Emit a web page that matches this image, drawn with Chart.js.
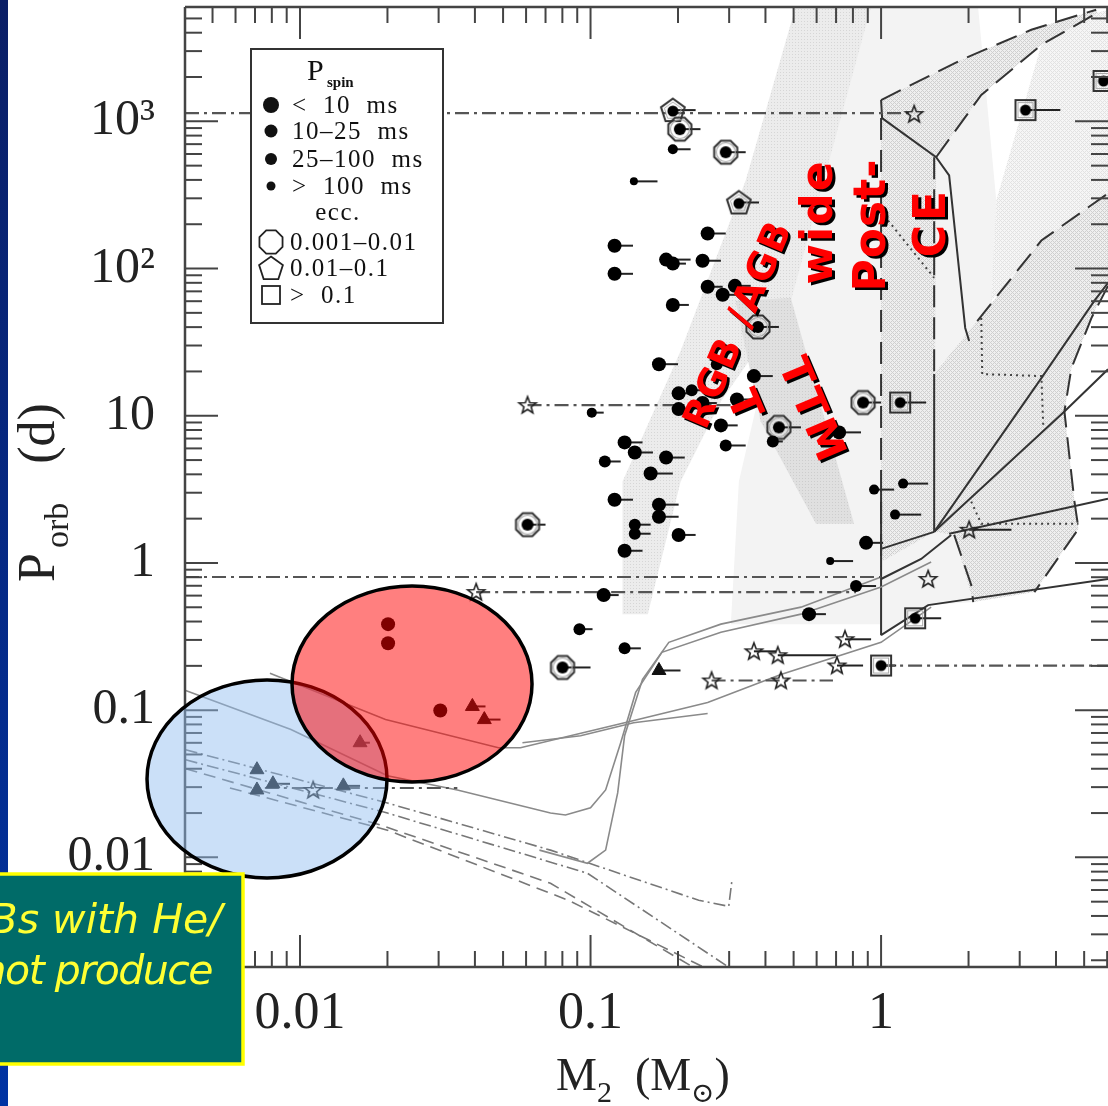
<!DOCTYPE html>
<html>
<head>
<meta charset="utf-8">
<title>Porb vs M2</title>
<script src="https://cdn.jsdelivr.net/npm/chart.js@4.4.1/dist/chart.umd.min.js"></script>
<style>
  html, body { margin: 0; padding: 0; background: #fff; }
  canvas { display: block; }
</style>
</head>
<body>
<canvas id="chart" width="1108" height="1106"></canvas>
<script>
/**
 * Binary pulsars: orbital period vs companion mass
 */

// axis ranges (M2 in Msun, Porb in days)
const xMin = 0.00402, xMax = 6.04;
const yMin = 0.0018, yMax = 5980;
const xTicks = [0.01, 0.1, 1];
const xTickText = ['0.01', '0.1', '1'];
const yTicks = [0.01, 0.1, 1, 10, 100, 1000];
const yTickText = ['0.01', '0.1', '1', '10', '10²', '10³'];

// pulsars: [M2, Porb, M2 at end of bar, spin class 1:<10 ms 2:10-25 3:25-100 4:>100]
const psrDots = [
  [0.192, 646, 0.221, 3], [0.141, 391, 0.170, 4], [0.253, 173, 0.292, 1], [0.121, 143, 0.140, 1],
  [0.182, 115, 0.221, 1], [0.192, 108, 0.213, 1], [0.243, 113, 0.281, 1], [0.121, 92.1, 0.140, 1],
  [0.253, 75.2, 0.285, 1], [0.285, 66.3, 0.321, 1], [0.314, 76.3, 0.356, 1], [0.192, 56.6, 0.218, 1],
  [0.172, 22.4, 0.200, 1], [0.272, 22.4, 0.309, 2], [0.365, 18.6, 0.424, 1], [0.201, 14.2, 0.225, 1],
  [0.223, 14.9, 0.243, 2], [0.243, 12.2, 0.272, 1], [0.201, 11.1, 0.227, 1], [0.319, 12.9, 0.374, 1],
  [0.101, 10.5, 0.111, 3], [0.281, 8.60, 0.321, 1], [0.717, 7.71, 0.853, 1], [0.131, 6.59, 0.151, 1],
  [0.142, 5.63, 0.164, 1], [0.182, 5.20, 0.211, 1], [0.112, 4.89, 0.127, 2], [0.161, 4.05, 0.192, 1],
  [0.292, 6.28, 0.342, 2], [0.424, 6.69, 0.459, 2], [0.121, 2.69, 0.140, 1], [0.172, 2.49, 0.201, 1],
  [0.172, 2.06, 0.201, 1], [0.142, 1.82, 0.161, 2], [0.142, 1.58, 0.161, 2], [0.201, 1.55, 0.230, 1],
  [0.131, 1.21, 0.151, 1], [0.946, 3.15, 1.109, 3], [1.191, 3.46, 1.452, 3], [1.117, 2.13, 1.374, 3],
  [0.888, 1.37, 1.016, 1], [0.668, 1.03, 0.801, 4], [0.820, 0.697, 0.961, 2], [0.565, 0.449, 0.646, 1],
  [0.111, 0.605, 0.125, 1], [0.0916, 0.355, 0.1016, 2], [0.131, 0.263, 0.149, 2],
  [0.0201, 0.384, 0.0201, 1], [0.0201, 0.285, 0.0201, 1], [0.0304, 0.0994, 0.0304, 1]
];
// eccentric systems: [M2, Porb, M2 at end of bar]
const eccLow = [ // 0.001-0.01
  [0.203, 885, 0.239], [0.292, 617, 0.342], [0.377, 40.1, 0.445], [0.445, 8.34, 0.530],
  [0.867, 12.3, 1.0], [0.0607, 1.82, 0.070], [0.0801, 0.195, 0.100]
];
const eccMid = [ // 0.01-0.1
  [0.192, 1192, 0.230], [0.324, 281, 0.380]
];
const eccHigh = [ // > 0.1
  [1.163, 12.3, 1.429], [1.31, 0.421, 1.61], [3.14, 1192, 4.14], [5.83, 1880, 7.0], [1.0, 0.201, 1.127]
];
const stars = [
  [1.30, 1120, 1.30], [0.0607, 11.8, 0.0607], [0.0404, 0.634, 0.0404], [1.452, 0.778, 1.452],
  [2.01, 1.68, 2.81], [0.365, 0.251, 0.435], [0.441, 0.236, 0.70], [0.751, 0.303, 0.924],
  [0.705, 0.201, 0.867], [0.261, 0.159, 0.261], [0.452, 0.159, 0.452], [0.0111, 0.0287, 0.0111]
];
const triangles = [
  [0.172, 0.186, 0.204], [0.0392, 0.106, 0.0435], [0.0431, 0.0863, 0.049], [0.0161, 0.0601, 0.0174],
  [0.00711, 0.0394, 0.00711], [0.00711, 0.0287, 0.00711], [0.00807, 0.0316, 0.00924], [0.0141, 0.0306, 0.0161]
];

// dash-dot period ranges: [M2 from, M2 to, Porb]
const rangeLines = [
  [0.00402, 1.30, 1138], [0.00402, 1.0, 0.803], [1.0, 6.04, 0.201], [0.0607, 0.377, 11.8],
  [0.0404, 0.820, 0.634], [0.261, 0.683, 0.159], [0.00757, 0.0348, 0.0296]
];

// evolutionary tracks [M2, Porb]
const trackA = [[0.00788, 0.178], [0.0197, 0.0863], [0.0482, 0.0556], [0.0574, 0.0556], [0.131, 0.0822], [0.253, 0.1127], [0.452, 0.175], [1, 0.289], [1.487, 0.501]];
const trackB = [[0.00404, 0.136], [0.00931, 0.0738], [0.0200, 0.0358], [0.0348, 0.0287], [0.0728, 0.0200], [0.082, 0.0194], [0.1, 0.0217], [0.1127, 0.0287], [0.127, 0.0601], [0.143, 0.132], [0.176, 0.247], [0.281, 0.338], [0.53, 0.449], [1, 0.686], [1.487, 1.016]];
const trackC = [[0.0667, 0.0112], [0.0976, 0.00912], [0.1127, 0.0112], [0.124, 0.0274], [0.131, 0.0671], [0.151, 0.162], [0.186, 0.289], [0.281, 0.384], [0.53, 0.501], [1, 0.803]];
const trackD = [[0.0583, 0.0601], [0.0924, 0.0671], [0.1407, 0.0822], [0.253, 0.0948]];
const tracksDashDot = [
  [[0.00404, 0.0538], [0.0200, 0.0234], [0.0728, 0.0112], [0.2357, 0.00511], [0.299, 0.00465], [0.3064, 0.00688]],
  [[0.00404, 0.046], [0.0200, 0.0200], [0.0976, 0.0078], [0.297, 0.00181]]
];
const tracksDashed = [
  [[0.00404, 0.040], [0.0189, 0.0166], [0.0728, 0.00667], [0.221, 0.00184]],
  [[0.00574, 0.0296], [0.0200, 0.0153], [0.0839, 0.00511], [0.259, 0.0017]]
];

// region boundaries [M2, Porb]
const bndDashed = [
  [[1, 1395], [1.888, 2615], [3.29, 4190], [5.5, 5735]],
  [[1.547, 570], [2.212, 1510], [3.562, 3310], [5.557, 5470]],
  [[1, 1052], [1, 0.95]],
  [[1.523, 570], [1.523, 19.2]],
  [[6.04, 76.3], [5.30, 46.2], [4.52, 21.1], [4.276, 10.7], [4.63, 2.61], [4.78, 1.706], [3.37, 0.634]],
  [[1.785, 1.55], [2.043, 0.708], [2.076, 0.542]],
  [[2.143, 44.0], [3.562, 155], [6.04, 324]]
];
const bndSolid = [
  [[1, 1395], [1.008, 1052], [1.547, 570], [1.715, 430], [1.948, 39.5], [2.01, 32.2]],
  [[1, 3.15], [1, 0.323]],
  [[1.523, 19.2], [1.523, 1.627]],
  [[1.523, 1.627], [3.562, 18.0], [5.42, 60.3], [6.04, 80.0]],
  [[1.523, 1.627], [4.276, 10.7], [6.04, 20.7]],
  [[1.715, 1.58], [6.04, 2.73]],
  [[1, 0.323], [1.452, 0.517], [6.04, 0.778]],
  [[1, 1.246], [1.523, 1.627]],
  [[1, 0.778], [1.374, 1.065], [1.743, 1.55]]
];
const bndDotted = [
  [[1.057, 212], [1.523, 86.5]],
  [[2.212, 46.2], [2.229, 19.2], [3.562, 18.6], [3.619, 8.2]],
  [[2.043, 2.61], [2.212, 1.85], [4.78, 1.85]]
];

// shaded zones [M2, Porb]
const zoneWide = [[0.788, 8000], [2.127, 8000], [2.492, 290], [2.395, 44.0], [2.01, 32.2], [1.523, 19.2], [1.523, 1.627], [1.785, 1.55], [2.076, 0.542], [1.452, 0.517], [1, 0.323], [1, 0.384], [0.304, 0.384], [0.324, 3.57], [0.452, 60.3]];
const zoneRgb = [[0.53, 8000], [0.961, 8000], [0.489, 60.3], [0.281, 12.54], [0.2042, 3.57], [0.1574, 0.449], [0.1289, 0.449], [0.1289, 3.57], [0.2042, 27.5], [0.342, 397]];
const zoneTtm = [[0.316, 60.3], [0.489, 63.2], [0.807, 1.85], [0.597, 1.85], [0.385, 9.16]];
const zoneHatchA = [[1, 1395], [1.888, 2615], [3.29, 4190], [5.5, 5735], [5.557, 5470], [3.562, 3310], [2.212, 1510], [1.547, 570], [1.523, 1.627], [1, 1.016]];
const zoneHatchB = [[1.523, 19.2], [2.143, 44.0], [3.562, 155], [6.04, 324], [6.04, 82.6], [5.30, 46.2], [4.52, 21.1], [4.276, 10.7], [4.63, 2.61], [4.78, 1.706], [3.37, 0.634], [2.076, 0.542], [1.785, 1.55], [1.523, 1.627]];
const zoneHatchC = [[3.562, 3310], [5.557, 5470], [6.04, 5735], [6.04, 324], [3.562, 155], [2.395, 60.3], [2.492, 290]];

// highlighted groups: centre [M2, Porb]
const blueCentre = [0.0077, 0.0341];
const redCentre = [0.0243, 0.1507];

const legendSpin = ['<  10  ms', '10–25  ms', '25–100  ms', '>  100  ms'];
const legendEcc = ['0.001–0.01', '0.01–0.1', '>  0.1'];
const zoneLabels = ['RGB /AGB', 'wide', 'Post-', 'CE', 'TTM', 'T'];
const boxLines = ['Bs with He/', 'not produce'];

const SERIF = "'Liberation Serif', 'DejaVu Serif', serif";
const SANS = "'DejaVu Sans', sans-serif";
const spinRadius = { 1: 7, 2: 6, 3: 5, 4: 4 };

// ---- marker images ----
function tile(size, draw) {
    const c = document.createElement('canvas');
    c.width = c.height = size;
    draw(c.getContext('2d'));
    return c;
}
function poly(g, n, r, rot) {
    g.beginPath();
    for (let i = 0; i < n; i++) {
        const a = rot + i * 2 * Math.PI / n;
        g.lineTo(r * Math.cos(a), r * Math.sin(a));
    }
    g.closePath();
}
function dot(g, r) { g.beginPath(); g.arc(0, 0, r, 0, 2 * Math.PI); g.fillStyle = '#000'; g.fill(); }

const ringImg = tile(30, g => {
    g.translate(15, 15);
    poly(g, 8, 12.5, Math.PI / 8); g.lineWidth = 2; g.strokeStyle = '#333'; g.stroke();
    g.beginPath(); g.arc(0, 0, 9.5, 0, 2 * Math.PI); g.lineWidth = 1.2; g.strokeStyle = '#aaa'; g.stroke();
    dot(g, 6);
});
const pentImg = tile(30, g => {
    g.translate(15, 16);
    poly(g, 5, 12.5, -Math.PI / 2); g.lineWidth = 2; g.strokeStyle = '#333'; g.stroke();
    poly(g, 5, 9, -Math.PI / 2); g.lineWidth = 1; g.strokeStyle = '#aaa'; g.stroke();
    dot(g, 5.5);
});
const squareImg = tile(26, g => {
    g.translate(13, 13);
    g.lineWidth = 2; g.strokeStyle = '#333'; g.strokeRect(-10, -10, 20, 20);
    g.lineWidth = 1; g.strokeStyle = '#aaa'; g.strokeRect(-7.5, -7.5, 15, 15);
    dot(g, 5.5);
});
const starImg = tile(24, g => {
    g.translate(12, 12.5);
    g.beginPath();
    for (let i = 0; i < 10; i++) {
        const r = i % 2 ? 3.8 : 9, a = -Math.PI / 2 + i * Math.PI / 5;
        g.lineTo(r * Math.cos(a), r * Math.sin(a));
    }
    g.closePath(); g.lineWidth = 1.6; g.strokeStyle = '#222'; g.stroke();
});
const hatchTile = tile(4, g => {
    g.fillStyle = '#efefef'; g.fillRect(0, 0, 4, 4);
    g.fillStyle = '#cfcfcf';
    for (let i = 0; i < 4; i++) for (let j = 0; j < 4; j++) if ((i + j) % 4 === 0 || (i - j + 4) % 4 === 0) g.fillRect(i, j, 1, 1);
});
const hatchLight = tile(4, g => {
    g.fillStyle = '#f6f6f6'; g.fillRect(0, 0, 4, 4);
    g.fillStyle = '#e2e2e2';
    for (let i = 0; i < 4; i++) for (let j = 0; j < 4; j++) if ((i + j) % 4 === 0 || (i - j + 4) % 4 === 0) g.fillRect(i, j, 1, 1);
});
const dotTile = tile(3, g => {
    g.fillStyle = '#ececec'; g.fillRect(0, 0, 3, 3);
    g.fillStyle = '#d6d6d6'; g.fillRect(0, 0, 1, 1);
});
const ttmTile = tile(3, g => {
    g.fillStyle = '#e0e0e0'; g.fillRect(0, 0, 3, 3);
    g.fillStyle = '#cdcdcd'; g.fillRect(1, 1, 1, 1);
});

// ---- helpers ----
function px(chart, m, p) {
    return [chart.scales.x.getPixelForValue(m), chart.scales.y.getPixelForValue(p)];
}
function tracePath(chart, pts) {
    const ctx = chart.ctx;
    ctx.beginPath();
    pts.forEach(([m, p], i) => {
        const [a, b] = px(chart, m, p);
        i ? ctx.lineTo(a, b) : ctx.moveTo(a, b);
    });
}
function seg(ctx, x0, y0, x1, y1) {
    ctx.beginPath(); ctx.moveTo(x0, y0); ctx.lineTo(x1, y1); ctx.stroke();
}
function textRun(ctx, parts, x, y) {
    for (const [t, size, dy] of parts) {
        ctx.font = `${size}px ${SERIF}`;
        ctx.fillText(t, x, y + dy);
        x += ctx.measureText(t).width;
    }
}
function redLabel(ctx, text, x, y, deg, size, spacing) {
    ctx.save();
    ctx.translate(x, y);
    ctx.rotate(deg * Math.PI / 180);
    ctx.font = `bold ${size}px ${SANS}`;
    ctx.letterSpacing = spacing + 'px';
    ctx.textAlign = 'center';
    ctx.textBaseline = 'middle';
    ctx.shadowColor = '#000';
    ctx.shadowOffsetX = 2.5;
    ctx.shadowOffsetY = 2.5;
    ctx.shadowBlur = 0;
    ctx.fillStyle = '#ff0000';
    ctx.fillText(text, 0, 0);
    ctx.restore();
}
function noPad(s) {
    s.paddingTop = 0; s.paddingBottom = 0; s.paddingLeft = 0; s.paddingRight = 0;
}

// ---- drawing ----
function drawFrame(chart) {
    const { ctx, chartArea: a, scales: { x, y } } = chart;
    ctx.save();
    ctx.strokeStyle = '#444';
    ctx.lineWidth = 2;
    for (let e = -3; e <= 0; e++) for (let k = 1; k <= 9; k++) {
        const v = k * Math.pow(10, e);
        if (v < xMin || v > xMax) continue;
        const p = x.getPixelForValue(v), len = k === 1 ? 32 : 16;
        seg(ctx, p, a.bottom, p, a.bottom - len);
        seg(ctx, p, a.top, p, a.top + len);
    }
    for (let e = -3; e <= 3; e++) for (let k = 1; k <= 9; k++) {
        const v = k * Math.pow(10, e);
        if (v < yMin || v > yMax) continue;
        const q = y.getPixelForValue(v), len = k === 1 ? 33 : 17;
        seg(ctx, a.left, q, a.left + len, q);
        seg(ctx, a.right, q, a.right - len, q);
    }
    ctx.lineWidth = 2.5;
    seg(ctx, a.left, a.top, a.right, a.top);
    seg(ctx, a.left, a.top, a.left, a.bottom);
    seg(ctx, a.left, a.bottom, a.right, a.bottom);
    ctx.restore();
}

function drawEllipses(chart) {
    const ctx = chart.ctx;
    ctx.save();
    const [bx, by] = px(chart, blueCentre[0], blueCentre[1]);
    ctx.beginPath(); ctx.ellipse(bx, by, 120, 99, 0, 0, 2 * Math.PI);
    ctx.fillStyle = 'rgba(145,190,240,0.47)'; ctx.fill();
    ctx.lineWidth = 3.5; ctx.strokeStyle = '#000'; ctx.stroke();
    const [rx, ry] = px(chart, redCentre[0], redCentre[1]);
    ctx.beginPath(); ctx.ellipse(rx, ry, 120, 98, 0, 0, 2 * Math.PI);
    ctx.fillStyle = 'rgba(255,0,0,0.5)'; ctx.fill();
    ctx.stroke();
    ctx.restore();
}

function drawLegend(ctx) {
    ctx.save();
    ctx.fillStyle = '#fff'; ctx.fillRect(251, 49, 192, 274);
    ctx.strokeStyle = '#333'; ctx.lineWidth = 2; ctx.strokeRect(251, 49, 192, 274);
    ctx.fillStyle = '#111';
    ctx.font = `30px ${SERIF}`; ctx.fillText('P', 307, 80);
    ctx.font = `bold 15px ${SERIF}`; ctx.fillText('spin', 327, 87);
    ctx.textBaseline = 'middle';
    ctx.letterSpacing = '1.5px';
    ctx.font = `25px ${SERIF}`;
    const rows = [105, 131, 159, 186];
    const radii = [8, 6.5, 6, 4.5];
    legendSpin.forEach((t, i) => {
        ctx.beginPath(); ctx.arc(271, rows[i], radii[i], 0, 2 * Math.PI); ctx.fill();
        ctx.fillText(t, 292, rows[i] + 1);
    });
    ctx.textAlign = 'center';
    ctx.fillText('ecc.', 338, 213);
    ctx.textAlign = 'left';
    const eRows = [242, 268, 295];
    ctx.strokeStyle = '#222'; ctx.lineWidth = 1.8;
    ctx.save(); ctx.translate(271, eRows[0]); poly(ctx, 8, 12.5, Math.PI / 8); ctx.stroke(); ctx.restore();
    ctx.save(); ctx.translate(271, eRows[1] + 1); poly(ctx, 5, 12.5, -Math.PI / 2); ctx.stroke(); ctx.restore();
    ctx.strokeRect(262, eRows[2] - 9, 18, 18);
    legendEcc.forEach((t, i) => ctx.fillText(t, 290, eRows[i] + 1));
    ctx.restore();
}

function drawTitles(ctx) {
    ctx.save();
    ctx.fillStyle = '#222';
    textRun(ctx, [['M', 46, 0], ['2', 30, 12], ['  (', 46, 0], ['M', 46, 0], ['⊙', 28, 12], [')', 46, 0]], 556, 1090);
    ctx.translate(54, 582);
    ctx.rotate(-Math.PI / 2);
    textRun(ctx, [['P', 52, 0], [' ', 20, 0], ['orb', 34, 14], ['   (d)', 52, 0]], 0, 0);
    ctx.restore();
}

function drawBox(ctx) {
    ctx.save();
    const g = ctx.createLinearGradient(0, 0, 0, 1106);
    g.addColorStop(0, '#0b1f66'); g.addColorStop(1, '#0033a3');
    ctx.fillStyle = g; ctx.fillRect(0, 0, 8, 1106);
    ctx.fillStyle = '#006b68'; ctx.fillRect(-4, 874, 247, 190);
    ctx.strokeStyle = '#ffff00'; ctx.lineWidth = 3.5; ctx.strokeRect(-4, 874, 247, 190);
    ctx.fillStyle = '#ffff33';
    ctx.font = `italic 41px ${SANS}`;
    ctx.textAlign = 'right';
    ctx.letterSpacing = '0px';
    ctx.fillText(boxLines[0], 222, 933);
    ctx.letterSpacing = '-1.5px';
    ctx.fillText(boxLines[1], 212, 984);
    ctx.restore();
}

const layers = {
    id: 'layers',
    beforeDraw(chart) {
        const { ctx, width, height } = chart;
        ctx.save(); ctx.fillStyle = '#fff'; ctx.fillRect(0, 0, width, height); ctx.restore();
    },
    beforeDatasetsDraw(chart) {
        const { ctx, chartArea: a } = chart;
        ctx.save();
        ctx.beginPath(); ctx.rect(a.left, a.top, a.right - a.left, a.bottom - a.top); ctx.clip();
        const fill = (pts, style) => { tracePath(chart, pts); ctx.closePath(); ctx.fillStyle = style; ctx.fill(); };
        fill(zoneWide, '#f3f3f3');
        fill(zoneHatchC, ctx.createPattern(hatchLight, 'repeat'));
        fill(zoneRgb, ctx.createPattern(dotTile, 'repeat'));
        fill(zoneTtm, ctx.createPattern(ttmTile, 'repeat'));
        fill(zoneHatchA, ctx.createPattern(hatchTile, 'repeat'));
        fill(zoneHatchB, ctx.createPattern(hatchTile, 'repeat'));
        // mass bars
        ctx.strokeStyle = '#222';
        ctx.lineWidth = 2;
        [psrDots, eccLow, eccMid, eccHigh, stars, triangles].forEach(set => set.forEach(r => {
            if (r[2] === r[0]) return;
            const [x0, y0] = px(chart, r[0], r[1]);
            const [x1] = px(chart, r[2], r[1]);
            seg(ctx, x0, y0, x1, y0);
        }));
        ctx.restore();
    },
    afterDraw(chart) {
        const ctx = chart.ctx;
        drawFrame(chart);
        redLabel(ctx, zoneLabels[0], 740, 325, -67, 38, 2);
        redLabel(ctx, zoneLabels[1], 821, 222, -90, 44, 2);
        redLabel(ctx, zoneLabels[2], 874, 225, -90, 44, 1);
        redLabel(ctx, zoneLabels[3], 934, 222, -90, 44, 4);
        redLabel(ctx, zoneLabels[4], 810, 412, 67, 42, 4);
        redLabel(ctx, zoneLabels[5], 742, 406, 67, 42, 0);
        drawEllipses(chart);
        drawLegend(ctx);
        drawTitles(ctx);
        drawBox(ctx);
    }
};

// ---- datasets ----
const toXY = rows => rows.map(r => ({ x: r[0], y: r[1], s: r[3] }));
const lineSet = (pts, color, width, dash) => ({
    data: pts.map(([m, p]) => ({ x: m, y: p })),
    showLine: true,
    pointRadius: 0,
    borderColor: color,
    borderWidth: width,
    borderDash: dash,
    order: 5
});

const datasets = [
    { label: 'pulsars', data: toXY(psrDots), pointStyle: 'circle', pointRadius: c => (c.raw ? spinRadius[c.raw.s] : 6), backgroundColor: '#000', borderWidth: 0, order: 0 },
    { label: 'ecc 0.001-0.01', data: toXY(eccLow), pointStyle: ringImg, pointRadius: 8, order: 0 },
    { label: 'ecc 0.01-0.1', data: toXY(eccMid), pointStyle: pentImg, pointRadius: 8, order: 0 },
    { label: 'ecc > 0.1', data: toXY(eccHigh), pointStyle: squareImg, pointRadius: 8, order: 0 },
    { label: 'stars', data: toXY(stars), pointStyle: starImg, pointRadius: 8, order: 0 },
    { label: 'triangles', data: toXY(triangles), pointStyle: 'triangle', pointRadius: 8, backgroundColor: '#111', borderColor: '#111', borderWidth: 1, order: 0 },
    ...rangeLines.map(([m0, m1, p]) => lineSet([[m0, p], [m1, p]], '#555', 2.2, [14, 5, 3, 5])),
    ...[trackA, trackB, trackC, trackD].map(t => lineSet(t, '#8a8a8a', 1.6, [])),
    ...tracksDashDot.map(t => lineSet(t, '#777', 1.6, [12, 4, 2, 4])),
    ...tracksDashed.map(t => lineSet(t, '#777', 1.6, [12, 7])),
    ...bndDashed.map(t => lineSet(t, '#333', 2, [22, 10])),
    ...bndSolid.map(t => lineSet(t, '#333', 2, [])),
    ...bndDotted.map(t => lineSet(t, '#444', 2, [2, 4]))
];

new Chart(document.getElementById('chart'), {
    type: 'scatter',
    data: { datasets },
    plugins: [layers],
    options: {
        responsive: false,
        animation: false,
        events: [],
        layout: { autoPadding: false, padding: { top: 7, right: 0, left: 0, bottom: 0 } },
        plugins: { legend: { display: false }, tooltip: { enabled: false } },
        scales: {
            x: {
                type: 'logarithmic', min: xMin, max: xMax, position: 'bottom',
                afterBuildTicks: s => { s.ticks = xTicks.map(v => ({ value: v })); },
                afterFit: s => { s.height = 139; noPad(s); },
                grid: { display: false, drawTicks: false },
                border: { display: false },
                ticks: { callback: (v, i) => xTickText[i], font: { family: SERIF, size: 52 }, color: '#222', padding: 16, maxRotation: 0, autoSkip: false }
            },
            y: {
                type: 'logarithmic', min: yMin, max: yMax,
                afterBuildTicks: s => { s.ticks = yTicks.map(v => ({ value: v })); },
                afterFit: s => { s.width = 185; noPad(s); },
                grid: { display: false, drawTicks: false },
                border: { display: false },
                ticks: { callback: (v, i) => yTickText[i], font: { family: SERIF, size: 50 }, color: '#222', padding: 30, autoSkip: false }
            }
        }
    }
});
</script>
</body>
</html>
